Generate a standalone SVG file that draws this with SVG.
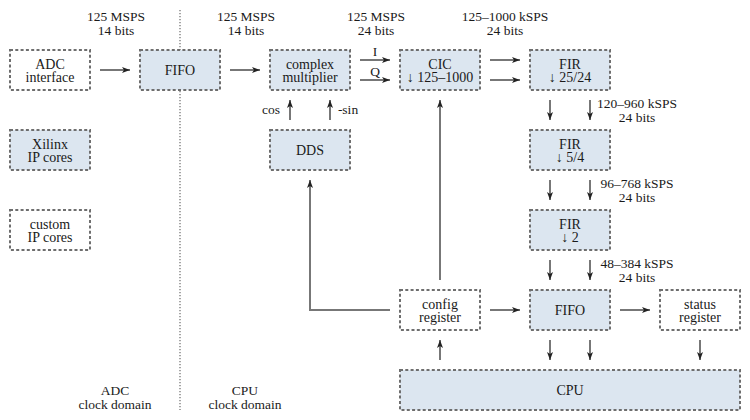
<svg xmlns="http://www.w3.org/2000/svg" width="750" height="420" viewBox="0 0 750 420">
<defs>
<marker id="ah" markerUnits="userSpaceOnUse" markerWidth="9" markerHeight="7" refX="8" refY="3.5" orient="auto">
<path d="M0,0.5 L8,3.5 L0,6.5 L2,3.5 z" fill="#222"/>
</marker>
<style>
.b{fill:#dce6f0;stroke:#6e6e6e;stroke-width:2;stroke-dasharray:3 2.3}
.w{fill:#fff;stroke:#6e6e6e;stroke-width:2;stroke-dasharray:3 2.3}
text{font-family:"Liberation Serif","DejaVu Serif",serif;font-size:14px;fill:#1a1a1a;text-anchor:middle}
.c line,.c path{stroke:#777;stroke-width:2;fill:none;marker-end:url(#ah)}
.l text{font-size:13.5px}
</style>
</defs>
<rect width="750" height="420" fill="#fff"/>
<line x1="180" y1="10" x2="180" y2="410" stroke="#888" stroke-width="1.5" stroke-dasharray="1.2 1.8"/>
<g id="labels" class="l">
<text x="116" y="20.5">125 MSPS</text><text x="116" y="34.5">14 bits</text>
<text x="246" y="20.5">125 MSPS</text><text x="246" y="34.5">14 bits</text>
<text x="376" y="20.5">125 MSPS</text><text x="376" y="34.5">24 bits</text>
<text x="505" y="20.5">125–1000 kSPS</text><text x="505" y="34.5">24 bits</text>
<text x="637" y="108">120–960 kSPS</text><text x="637" y="122">24 bits</text>
<text x="637" y="188">96–768 kSPS</text><text x="637" y="202">24 bits</text>
<text x="637" y="268">48–384 kSPS</text><text x="637" y="282">24 bits</text>
<text x="115" y="394.5">ADC</text><text x="115" y="408.5">clock domain</text>
<text x="245" y="394.5">CPU</text><text x="245" y="408.5">clock domain</text>
<text x="375" y="56">I</text><text x="375" y="76">Q</text>
<text x="271" y="114">cos</text><text x="348" y="114">-sin</text>
</g>
<g id="adc"><rect class="w" x="10" y="50" width="80" height="40"/><text x="50" y="68.5">ADC</text><text x="50" y="82">interface</text></g>
<g id="fifo1"><rect class="b" x="140" y="50" width="80" height="40"/><text x="180" y="75">FIFO</text></g>
<g id="cmul"><rect class="b" x="270" y="50" width="80" height="40"/><text x="310" y="68.5">complex</text><text x="310" y="82">multiplier</text></g>
<g id="cic"><rect class="b" x="400" y="50" width="80" height="40"/><text x="440" y="68.5">CIC</text><text x="440" y="82">↓ 125–1000</text></g>
<g id="fir1"><rect class="b" x="530" y="50" width="80" height="40"/><text x="570" y="68.5">FIR</text><text x="570" y="82">↓ 25/24</text></g>
<g id="xilinx"><rect class="b" x="10" y="130" width="80" height="40"/><text x="50" y="148.5">Xilinx</text><text x="50" y="162">IP cores</text></g>
<g id="dds"><rect class="b" x="270" y="130" width="80" height="40"/><text x="310" y="155">DDS</text></g>
<g id="fir2"><rect class="b" x="530" y="130" width="80" height="40"/><text x="570" y="148.5">FIR</text><text x="570" y="162">↓ 5/4</text></g>
<g id="custom"><rect class="w" x="10" y="210" width="80" height="40"/><text x="50" y="228.5">custom</text><text x="50" y="242">IP cores</text></g>
<g id="fir3"><rect class="b" x="530" y="210" width="80" height="40"/><text x="570" y="228.5">FIR</text><text x="570" y="242">↓ 2</text></g>
<g id="config"><rect class="w" x="400" y="290" width="80" height="40"/><text x="440" y="308.5">config</text><text x="440" y="322">register</text></g>
<g id="fifo2"><rect class="b" x="530" y="290" width="80" height="40"/><text x="570" y="315">FIFO</text></g>
<g id="status"><rect class="w" x="660" y="290" width="80" height="40"/><text x="700" y="308.5">status</text><text x="700" y="322">register</text></g>
<g id="cpu"><rect class="b" x="400" y="370" width="340" height="40"/><text x="570" y="395">CPU</text></g>
<g id="connectors" class="c">
<line x1="100" y1="70" x2="130" y2="70"/>
<line x1="230" y1="70" x2="260" y2="70"/>
<line x1="360" y1="60" x2="390" y2="60"/>
<line x1="360" y1="80" x2="390" y2="80"/>
<line x1="490" y1="60" x2="520" y2="60"/>
<line x1="490" y1="80" x2="520" y2="80"/>
<line x1="290" y1="120" x2="290" y2="100"/>
<line x1="330" y1="120" x2="330" y2="100"/>
<line x1="550" y1="100" x2="550" y2="120"/>
<line x1="590" y1="100" x2="590" y2="120"/>
<line x1="550" y1="180" x2="550" y2="200"/>
<line x1="590" y1="180" x2="590" y2="200"/>
<line x1="550" y1="260" x2="550" y2="280"/>
<line x1="590" y1="260" x2="590" y2="280"/>
<line x1="490" y1="310" x2="520" y2="310"/>
<line x1="620" y1="310" x2="650" y2="310"/>
<line x1="550" y1="340" x2="550" y2="360"/>
<line x1="590" y1="340" x2="590" y2="360"/>
<line x1="700" y1="340" x2="700" y2="360"/>
<line x1="440" y1="360" x2="440" y2="340"/>
<line x1="440" y1="280" x2="440" y2="100"/>
<path d="M390,310 H310 V180"/>
</g>
</svg>
